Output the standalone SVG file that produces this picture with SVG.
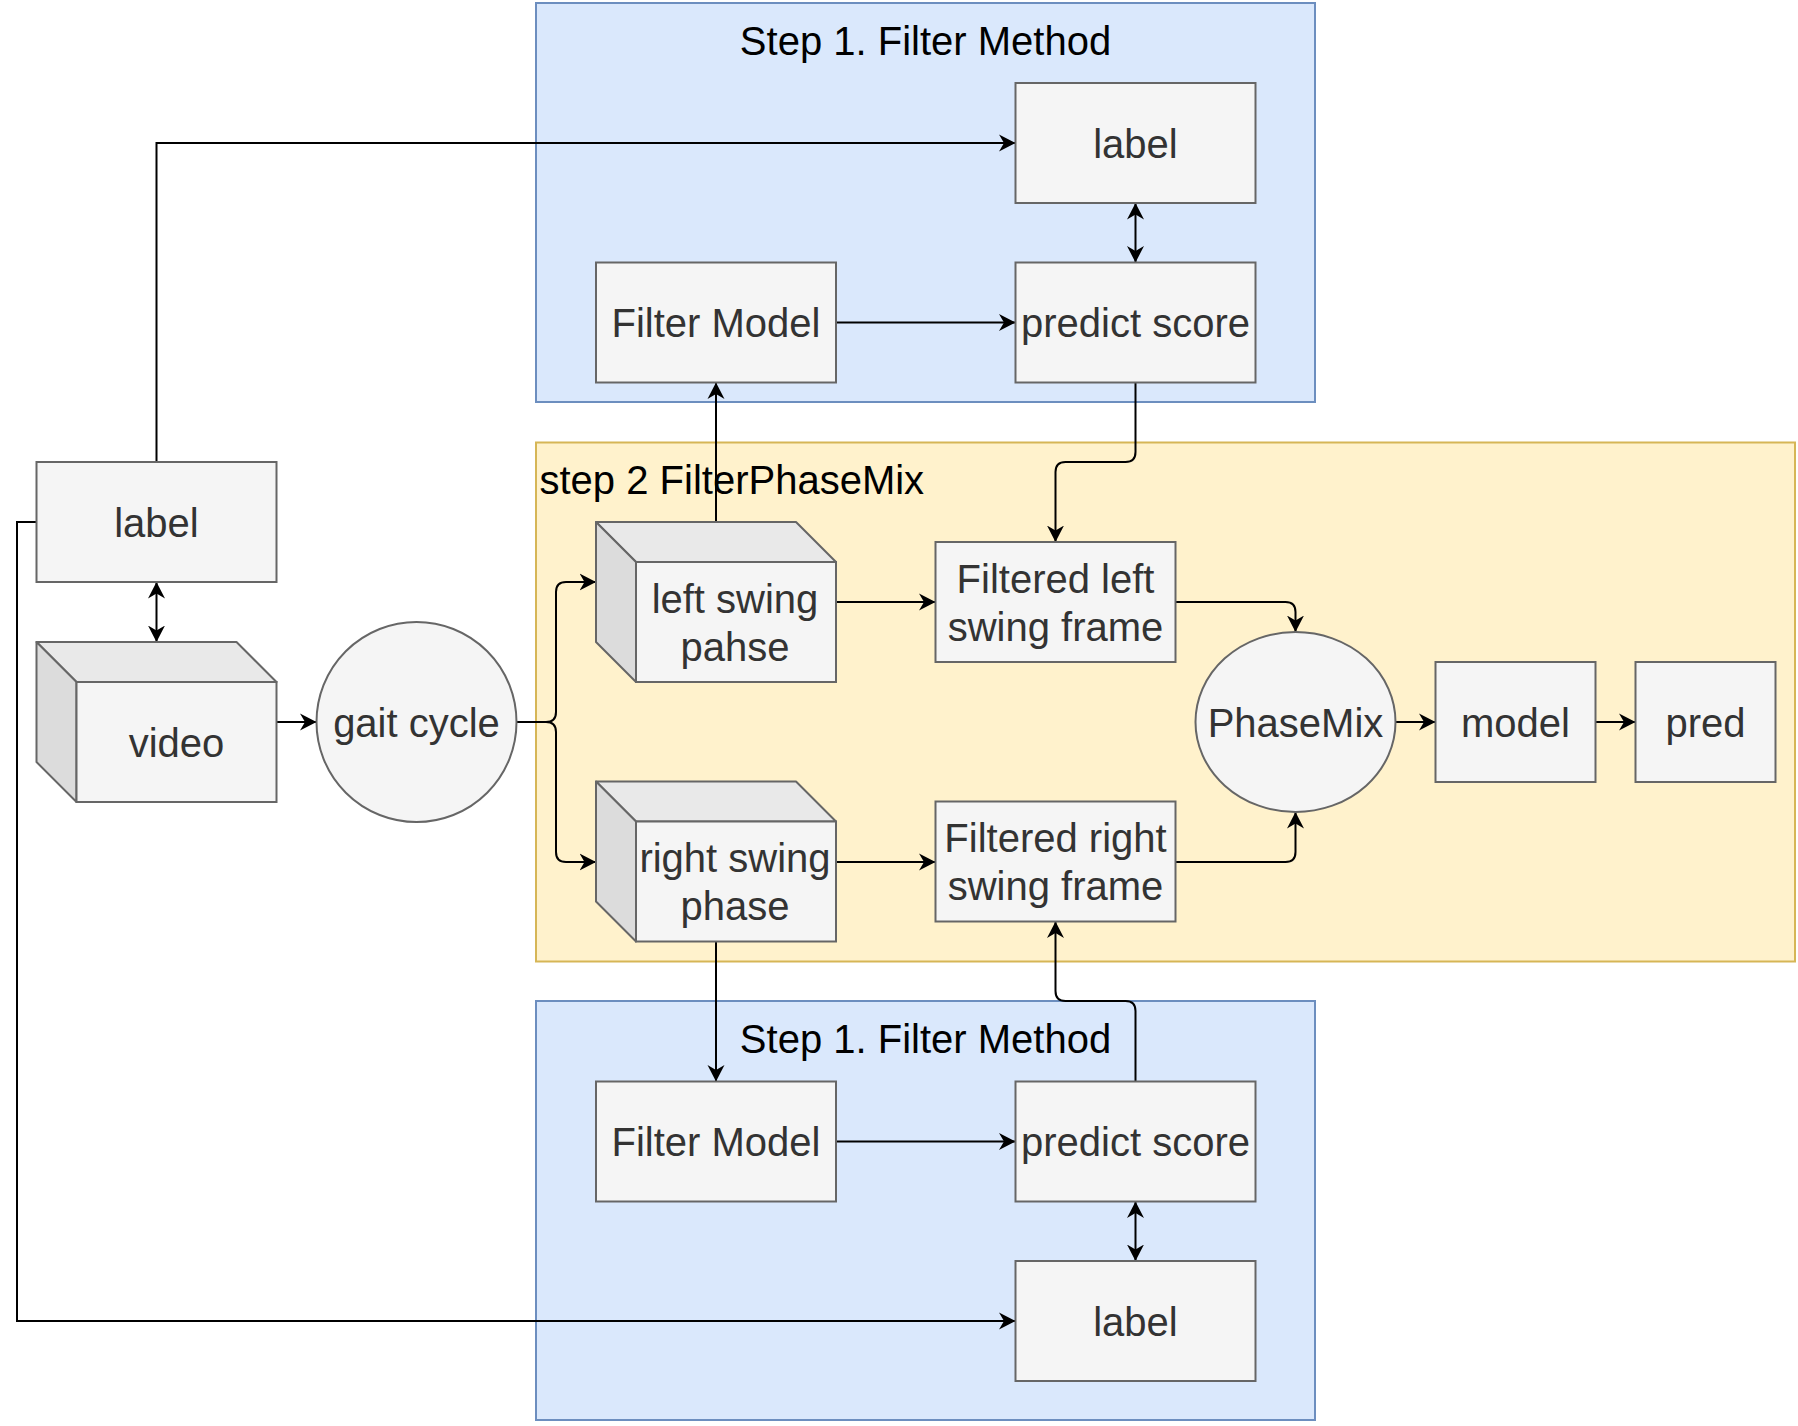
<svg xmlns="http://www.w3.org/2000/svg" width="1798" height="1426" viewBox="0 0 1798 1426">
<style>
.blue{fill:#dae8fc;stroke:#6c8ebf;stroke-width:2}
.yellow{fill:#fff2cc;stroke:#d6b656;stroke-width:2}
.box{fill:#f5f5f5;stroke:#666666;stroke-width:2}
.top{fill:#e9e9e9;stroke:#666666;stroke-width:2;stroke-linejoin:round}
.side{fill:#dcdcdc;stroke:#666666;stroke-width:2;stroke-linejoin:round}
.t{font-family:"Liberation Sans",Arial,sans-serif;font-size:40px;fill:#333333;text-anchor:middle}
.title{font-family:"Liberation Sans",Arial,sans-serif;font-size:40px;fill:#000000}
.e{fill:none;stroke:#000000;stroke-width:2}
</style>
<defs>
<marker id="arr" viewBox="0 0 18 18" refX="16.5" refY="9" markerWidth="18" markerHeight="18" markerUnits="userSpaceOnUse" orient="auto-start-reverse">
<path d="M0,0.5 L16.5,9 L0,17.5 L5,9 z" fill="#000000"/>
</marker>
</defs>
<rect width="1798" height="1426" fill="#ffffff"/>

<g id="step1-top">
<rect class="blue" x="536" y="3" width="779" height="399"/>
<text class="title" x="925.5" y="55" text-anchor="middle">Step 1. Filter Method</text>
</g>
<g id="step2">
<rect class="yellow" x="536" y="442.5" width="1259" height="519"/>
<text class="title" x="539.5" y="493.5">step 2 FilterPhaseMix</text>
</g>
<g id="step1-bottom">
<rect class="blue" x="536" y="1001" width="779" height="419"/>
<text class="title" x="925.5" y="1053" text-anchor="middle">Step 1. Filter Method</text>
</g>

<g id="connectors">
<path class="e" d="M156.5,462 V143 H1015.5" marker-end="url(#arr)"/>
<path class="e" d="M36.5,522 H17 V1321 H1015.5" marker-end="url(#arr)"/>
<path class="e" d="M156.5,582 V642" marker-start="url(#arr)" marker-end="url(#arr)"/>
<path class="e" d="M276.5,722 H316.5" marker-end="url(#arr)"/>
<path class="e" d="M516.5,722 H546 Q556,722 556,712 V592 Q556,582 566,582 H596" marker-end="url(#arr)"/>
<path class="e" d="M516.5,722 H546 Q556,722 556,732 V852 Q556,862 566,862 H596" marker-end="url(#arr)"/>
<path class="e" d="M716,522 V382.5" marker-end="url(#arr)"/>
<path class="e" d="M716,941.5 V1081.5" marker-end="url(#arr)"/>
<path class="e" d="M836,322.5 H1015.5" marker-end="url(#arr)"/>
<path class="e" d="M836,1141.5 H1015.5" marker-end="url(#arr)"/>
<path class="e" d="M1135.5,203 V262.5" marker-start="url(#arr)" marker-end="url(#arr)"/>
<path class="e" d="M1135.5,1201.5 V1261" marker-start="url(#arr)" marker-end="url(#arr)"/>
<path class="e" d="M1135.5,382.5 V452 Q1135.5,462 1125.5,462 H1065.5 Q1055.5,462 1055.5,472 V542" marker-end="url(#arr)"/>
<path class="e" d="M1135.5,1081.5 V1011 Q1135.5,1001 1125.5,1001 H1065.5 Q1055.5,1001 1055.5,991 V921.5" marker-end="url(#arr)"/>
<path class="e" d="M836,602 H935.5" marker-end="url(#arr)"/>
<path class="e" d="M836,862 H935.5" marker-end="url(#arr)"/>
<path class="e" d="M1175.5,602 H1285.5 Q1295.5,602 1295.5,612 V632" marker-end="url(#arr)"/>
<path class="e" d="M1175.5,862 H1285.5 Q1295.5,862 1295.5,852 V812" marker-end="url(#arr)"/>
<path class="e" d="M1395.5,722 H1435.5" marker-end="url(#arr)"/>
<path class="e" d="M1595.5,722 H1635.5" marker-end="url(#arr)"/>
</g>

<g id="label-top">
<rect class="box" x="1015.5" y="83" width="240" height="120"/>
<text class="t" x="1135.5" y="157.5">label</text>
</g>
<g id="predict-top">
<rect class="box" x="1015.5" y="262.5" width="240" height="120"/>
<text class="t" x="1135.5" y="337">predict score</text>
</g>
<g id="filter-model-top">
<rect class="box" x="596" y="262.5" width="240" height="120"/>
<text class="t" x="716" y="337">Filter Model</text>
</g>
<g id="label-left">
<rect class="box" x="36.5" y="462" width="240" height="120"/>
<text class="t" x="156.5" y="536.5">label</text>
</g>
<g id="video">
<polygon class="top" points="36.5,642 236.5,642 276.5,682 76.5,682"/>
<polygon class="side" points="36.5,642 76.5,682 76.5,802 36.5,762"/>
<rect class="box" x="76.5" y="682" width="200" height="120"/>
<text class="t" x="176.5" y="756.5">video</text>
</g>
<g id="gait-cycle">
<ellipse class="box" cx="416.5" cy="722" rx="100" ry="100"/>
<text class="t" x="416.5" y="736.5">gait cycle</text>
</g>
<g id="left-swing">
<polygon class="top" points="596,522 796,522 836,562 636,562"/>
<polygon class="side" points="596,522 636,562 636,682 596,642"/>
<rect class="box" x="636" y="562" width="200" height="120"/>
<text class="t" x="735" y="612.5">left swing</text>
<text class="t" x="735" y="660.5">pahse</text>
</g>
<g id="right-swing">
<polygon class="top" points="596,781.5 796,781.5 836,821.5 636,821.5"/>
<polygon class="side" points="596,781.5 636,821.5 636,941.5 596,901.5"/>
<rect class="box" x="636" y="821.5" width="200" height="120"/>
<text class="t" x="735" y="872">right swing</text>
<text class="t" x="735" y="920">phase</text>
</g>
<g id="filtered-left">
<rect class="box" x="935.5" y="542" width="240" height="120"/>
<text class="t" x="1055.5" y="592.5">Filtered left</text>
<text class="t" x="1055.5" y="640.5">swing frame</text>
</g>
<g id="filtered-right">
<rect class="box" x="935.5" y="801.5" width="240" height="120"/>
<text class="t" x="1055.5" y="852">Filtered right</text>
<text class="t" x="1055.5" y="900">swing frame</text>
</g>
<g id="phasemix">
<ellipse class="box" cx="1295.5" cy="722" rx="100" ry="90"/>
<text class="t" x="1295.5" y="736.5">PhaseMix</text>
</g>
<g id="model">
<rect class="box" x="1435.5" y="662" width="160" height="120"/>
<text class="t" x="1515.5" y="736.5">model</text>
</g>
<g id="pred">
<rect class="box" x="1635.5" y="662" width="140" height="120"/>
<text class="t" x="1705.5" y="736.5">pred</text>
</g>
<g id="filter-model-bottom">
<rect class="box" x="596" y="1081.5" width="240" height="120"/>
<text class="t" x="716" y="1156">Filter Model</text>
</g>
<g id="predict-bottom">
<rect class="box" x="1015.5" y="1081.5" width="240" height="120"/>
<text class="t" x="1135.5" y="1156">predict score</text>
</g>
<g id="label-bottom">
<rect class="box" x="1015.5" y="1261" width="240" height="120"/>
<text class="t" x="1135.5" y="1335.5">label</text>
</g>
</svg>
